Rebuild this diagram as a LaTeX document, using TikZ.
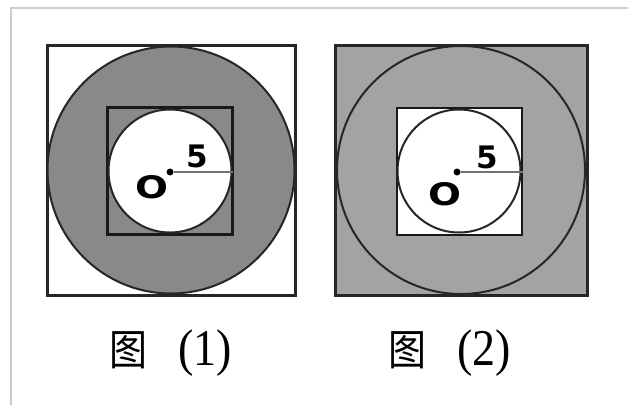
\documentclass[tikz,border=0pt]{standalone}
\usepackage{fontspec}
\setsansfont{DejaVu Sans}
\newfontfamily\cjk{Noto Sans CJK SC}
\newfontfamily\capnum{Liberation Serif}
\definecolor{darkfill}{RGB}{137,137,137}
\definecolor{lightfill}{RGB}{163,163,163}
\definecolor{frameline}{RGB}{205,205,205}
\tikzset{
  outerbox/.style={draw=black!85, line width=3pt, inner sep=0pt},
  innerbox/.style={draw=black!90, line width=2.4pt, inner sep=0pt},
  ring/.style={circle, draw=black!85, line width=2pt, inner sep=0pt},
  radius line/.style={draw=black!55, line width=1.6pt},
  centre/.style={circle, fill=black, inner sep=0pt, minimum size=7pt},
  letter/.style={font=\sffamily\bfseries\fontsize{31}{31}\selectfont, inner sep=0pt},
  caption/.style={font=\fontsize{38}{40}\selectfont, yscale=1.12, transform shape, inner sep=0pt},
}
\begin{document}
\begin{tikzpicture}[x=1pt,y=-1pt]
  \useasboundingbox (0,0) rectangle (628,405);
  \draw[frameline, line width=1.5pt] (11,405) -- (11,8) -- (628,8);
  % figure (1)
  \node[outerbox, fill=white, minimum width=248pt, minimum height=250pt] (sq1) at (171,170) {};
  \node[ring, fill=darkfill, minimum size=247pt] (big1) at (171,170) {};
  \node[innerbox, fill=darkfill, minimum width=125pt, minimum height=127pt] (box1) at (170,171) {};
  \node[ring, fill=white, minimum size=123pt] (hole1) at (170,171) {};
  \node[centre] (o1) at (170,172) {};
  \draw[radius line] (o1) -- (o1 -| hole1.east);
  \node[letter] (r1) at (197,156) {5};
  \node[letter, xscale=1.25, transform shape] (n1) at (152,187) {O};
  % figure (2)
  \node[outerbox, fill=lightfill, minimum width=252pt, minimum height=250pt] (sq2) at (461,170) {};
  \node[ring, fill=lightfill, minimum size=248pt] (big2) at (461,170) {};
  \node[innerbox, fill=white, minimum width=125pt, minimum height=127pt] (box2) at (459.5,171.5) {};
  \node[ring, fill=white, minimum size=123pt] (hole2) at (459,171) {};
  \node[centre] (o2) at (457,172) {};
  \draw[radius line] (o2) -- (o2 -| box2.east);
  \node[letter] (r2) at (487,157) {5};
  \node[letter, xscale=1.25, transform shape] (n2) at (445,194) {O};
  % captions
  \node[caption] (cap1) at (171,353) {{\cjk 图}\hspace{0.8em}{\capnum\fontsize{46}{46}\selectfont(1)}};
  \node[caption] (cap2) at (450,353) {{\cjk 图}\hspace{0.8em}{\capnum\fontsize{46}{46}\selectfont(2)}};
\end{tikzpicture}
\end{document}
